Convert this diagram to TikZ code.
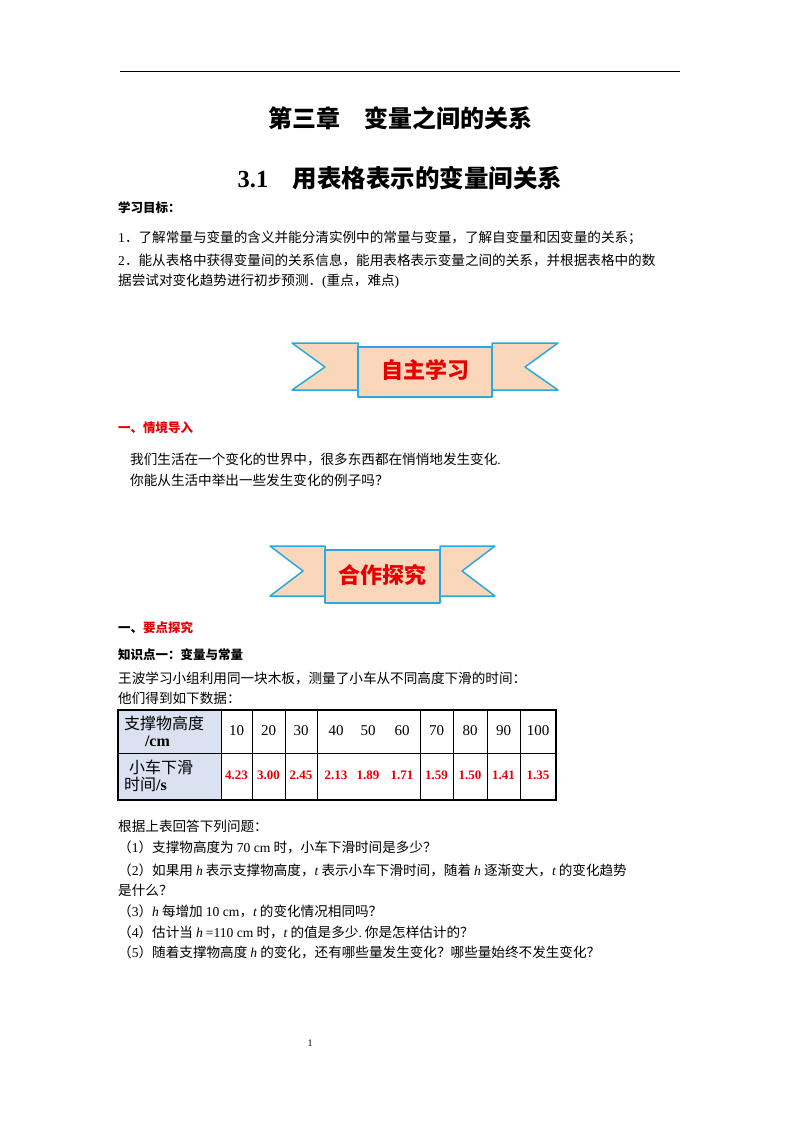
\documentclass[tikz,border=0pt]{standalone}
\usepackage{fontspec}
\setmainfont{Liberation Serif}
\newfontfamily\cjk{Noto Sans CJK SC}
\newcommand{\tm}[1]{{\rmfamily #1}}
\definecolor{rib}{RGB}{250,214,186}
\definecolor{ribline}{RGB}{40,170,225}
\definecolor{hdr}{RGB}{218,226,242}
\definecolor{rd}{RGB}{230,0,0}
\begin{document}
\begin{tikzpicture}[x=1pt,y=-1pt,
  body/.style={anchor=west,inner sep=0,font=\cjk\fontsize{13.6}{15}\selectfont},
  ribbon/.style={fill=rib,draw=ribline,line width=1.5pt,line join=round},
  cell/.style={inner sep=0,font=\fontsize{15}{17}\selectfont},
  val/.style={inner sep=0,font=\bfseries\fontsize{13}{15}\selectfont,text=rd}]
\useasboundingbox (0,0) rectangle (800,1132);
\draw[line width=1pt] (120,72) -- (680,72);
\node (t1) at (400,118) {\cjk\bfseries\fontsize{24}{26}\selectfont 第三章\quad 变量之间的关系};
\node (t2) at (400,178) {\bfseries\fontsize{24.5}{27}\selectfont 3.1\quad{\cjk 用表格表示的变量间关系}};
\node[body,font=\cjk\bfseries\fontsize{12.5}{14}\selectfont] (g) at (118,208) {学习目标：};
\node[body] (l1) at (118,238) {\tm{1}．了解常量与变量的含义并能分清实例中的常量与变量，了解自变量和因变量的关系；};
\node[body] (l2) at (118,260) {\tm{2}．能从表格中获得变量间的关系信息，能用表格表示变量之间的关系，并根据表格中的数};
\node[body] (l3) at (118,281) {据尝试对变化趋势进行初步预测．\tm{(}重点，难点\tm{)}};
% banner 1
\draw[ribbon] (292,343) -- (358,343) -- (358,390) -- (292,390) -- (325,367) -- cycle;
\draw[ribbon] (558,343) -- (492,343) -- (492,390) -- (558,390) -- (525,367) -- cycle;
\draw[ribbon] (358,347) rectangle (492,397);
\node (b1) at (425,370) {\cjk\bfseries\fontsize{22}{24}\selectfont\color{rd}自主学习};
\node[body,font=\cjk\bfseries\fontsize{12.5}{14}\selectfont,text=rd] (s1) at (118,428) {一、情境导入};
\node[body] (p1) at (130,459) {我们生活在一个变化的世界中，很多东西都在悄悄地发生变化\tm{.}};
\node[body] (p2) at (130,480) {你能从生活中举出一些发生变化的例子吗？};
% banner 2
\draw[ribbon] (270,546) -- (325,546) -- (325,596) -- (270,596) -- (303,571) -- cycle;
\draw[ribbon] (495,546) -- (440,546) -- (440,596) -- (495,596) -- (462,571) -- cycle;
\draw[ribbon] (325,550) rectangle (440,603);
\node (b2) at (382,575) {\cjk\bfseries\fontsize{22}{24}\selectfont\color{rd}合作探究};
\node[body,font=\cjk\bfseries\fontsize{12.5}{14}\selectfont] (s2) at (118,628) {一、\textcolor{rd}{要点探究}};
\node[body,font=\cjk\bfseries\fontsize{12.5}{14}\selectfont] (k1) at (118,655) {知识点一：变量与常量};
\node[body] (q0) at (118,678) {王波学习小组利用同一块木板，测量了小车从不同高度下滑的时间：};
\node[body] (q1) at (118,698) {他们得到如下数据：};
% table
\fill[hdr] (118,710) rectangle (221,800);
\draw[line width=1.2pt] (118,710) rectangle (556,800);
\draw[line width=0.6pt] (118,753) -- (556,753);
\foreach \x in {221,252,285,317,420,453,487,520} \draw[line width=0.6pt] (\x,710) -- (\x,800);
\node[anchor=west,align=left,inner sep=0,font=\cjk\fontsize{16}{20}\selectfont] (h1) at (124,731) {支撑物高度\\[-3pt]\hspace*{1.3em}\tm{\bfseries /cm}};
\node[anchor=west,align=left,inner sep=0,font=\cjk\fontsize{16}{20}\selectfont] (h2) at (124,776) {\hspace*{0.3em}小车下滑\\[-3pt]时间\tm{\bfseries /s}};
\foreach \x/\a/\b in {236.5/10/4.23,268.5/20/3.00,301/30/2.45,336/40/2.13,368/50/1.89,402/60/1.71,436.5/70/1.59,470/80/1.50,503.5/90/1.41,538/100/1.35}{
  \node[cell] at (\x,731) {\a};
  \node[val] at (\x,775) {\b};}
\node[body] (r0) at (118,826) {根据上表回答下列问题：};
\node[body] (r1) at (118,847) {（\tm{1}）支撑物高度为\ \tm{70 cm}\ 时，小车下滑时间是多少？};
\node[body] (r2) at (118,870) {（\tm{2}）如果用\ \tm{\itshape h}\ 表示支撑物高度，\tm{\itshape t}\ 表示小车下滑时间，随着\ \tm{\itshape h}\ 逐渐变大，\tm{\itshape t}\ 的变化趋势};
\node[body] (r3) at (118,890) {是什么？};
\node[body] (r4) at (118,911) {（\tm{3}）\tm{\itshape h}\ 每增加\ \tm{10 cm}，\tm{\itshape t}\ 的变化情况相同吗？};
\node[body] (r5) at (118,932) {（\tm{4}）估计当\ \tm{\itshape h}\ \tm{=110 cm}\ 时，\tm{\itshape t}\ 的值是多少\tm{.}\ 你是怎样估计的？};
\node[body] (r6) at (118,952) {（\tm{5}）随着支撑物高度\ \tm{\itshape h}\ 的变化，还有哪些量发生变化？哪些量始终不发生变化？};
\node[font=\fontsize{10}{12}\selectfont] (pg) at (310,1043) {1};
\end{tikzpicture}
\end{document}
